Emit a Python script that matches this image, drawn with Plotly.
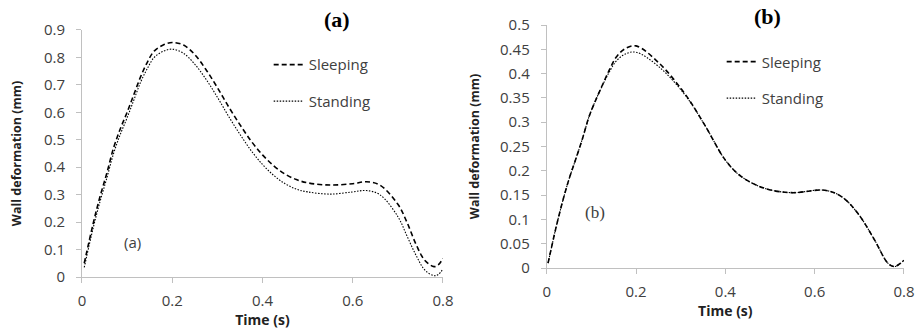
import plotly.graph_objects as go

# Panel (a)
t_a = [0.005, 0.025, 0.04, 0.055, 0.07, 0.085, 0.1, 0.115, 0.13, 0.145, 0.16, 0.18, 0.2, 0.225, 0.25, 0.275,
       0.3, 0.325, 0.35, 0.375, 0.4, 0.425, 0.45, 0.475, 0.5, 0.55, 0.6, 0.63, 0.66, 0.7, 0.72, 0.74, 0.76,
       0.78, 0.79, 0.8]
a_sleeping = [0.05, 0.196, 0.293, 0.378, 0.47, 0.54, 0.6, 0.665, 0.73, 0.783, 0.823, 0.845, 0.854, 0.845, 0.81,
              0.755, 0.69, 0.62, 0.555, 0.495, 0.445, 0.405, 0.375, 0.355, 0.343, 0.335, 0.34, 0.347, 0.335,
              0.265, 0.2, 0.12, 0.06, 0.038, 0.045, 0.068]
a_standing = [0.035, 0.18, 0.275, 0.36, 0.45, 0.52, 0.58, 0.645, 0.71, 0.76, 0.8, 0.822, 0.83, 0.815, 0.775,
              0.72, 0.655, 0.585, 0.52, 0.46, 0.41, 0.37, 0.34, 0.32, 0.31, 0.302, 0.31, 0.315, 0.3,
              0.22, 0.15, 0.08, 0.025, 0.005, 0.01, 0.03]

# Panel (b)
t_b = [0.003, 0.02, 0.035, 0.05, 0.065, 0.08, 0.095, 0.11, 0.125, 0.14, 0.155, 0.175, 0.2, 0.25, 0.309, 0.354,
       0.4, 0.436, 0.488, 0.548, 0.622, 0.66, 0.697, 0.734, 0.764, 0.779, 0.8]
b_sleeping = [0.01, 0.08, 0.135, 0.183, 0.224, 0.266, 0.312, 0.346, 0.377, 0.407, 0.433, 0.451, 0.457, 0.423,
              0.359, 0.294, 0.222, 0.188, 0.164, 0.155, 0.16, 0.147, 0.112, 0.058, 0.01, 0.003, 0.016]
b_standing = [0.01, 0.08, 0.135, 0.183, 0.224, 0.266, 0.312, 0.346, 0.376, 0.403, 0.425, 0.44, 0.444, 0.415,
              0.357, 0.294, 0.222, 0.188, 0.164, 0.155, 0.16, 0.147, 0.112, 0.058, 0.01, 0.003, 0.016]

x_ticks = [0, 0.2, 0.4, 0.6, 0.8]
x_tick_text = ["0", "0.2", "0.4", "0.6", "0.8"]
ya_ticks = [0, 0.1, 0.2, 0.3, 0.4, 0.5, 0.6, 0.7, 0.8, 0.9]
ya_text = ["0", "0.1", "0.2", "0.3", "0.4", "0.5", "0.6", "0.7", "0.8", "0.9"]
yb_ticks = [0, 0.05, 0.1, 0.15, 0.2, 0.25, 0.3, 0.35, 0.4, 0.45, 0.5]
yb_text = ["0", "0.05", "0.1", "0.15", "0.2", "0.25", "0.3", "0.35", "0.4", "0.45", "0.5"]

FONT = "Open Sans"
TICK_COLOR = "#404040"
AX_COLOR = "#c0c0c0"
DASH = "5px,3px"
DOT = "1.5px,1.5px"

fig = go.Figure()
fig.add_trace(go.Scatter(x=t_a, y=a_sleeping, mode="lines", name="Sleeping", legendgroup="s",
                         line=dict(color="black", dash=DASH, width=1.6, shape="spline"), xaxis="x", yaxis="y",
                         legend="legend"))
fig.add_trace(go.Scatter(x=t_a, y=a_standing, mode="lines", name="Standing", legendgroup="t",
                         line=dict(color="black", dash=DOT, width=1.1, shape="spline"), xaxis="x", yaxis="y",
                         legend="legend"))
fig.add_trace(go.Scatter(x=t_b, y=b_sleeping, mode="lines", name="Sleeping", legendgroup="s2",
                         line=dict(color="black", dash=DASH, width=1.6, shape="spline"), xaxis="x2", yaxis="y2",
                         legend="legend2"))
fig.add_trace(go.Scatter(x=t_b, y=b_standing, mode="lines", name="Standing", legendgroup="t2",
                         line=dict(color="black", dash=DOT, width=1.1, shape="spline"), xaxis="x2", yaxis="y2",
                         legend="legend2"))

def xax(domain, anchor):
    return dict(domain=domain, anchor=anchor, range=[0, 0.8], tickvals=x_ticks, ticktext=x_tick_text,
                showgrid=False, zeroline=False, showline=True, linecolor=AX_COLOR, linewidth=1,
                ticks="outside", ticklen=5, tickcolor=AX_COLOR, automargin=False, ticklabelstandoff=5,
                tickfont=dict(family=FONT, size=15, color=TICK_COLOR),
                title=dict(text="<b>Time (s)</b>", font=dict(family=FONT, size=14, color="#222"), standoff=5))

def yax(domain, anchor, rng, tv, tt, standoff):
    return dict(domain=domain, anchor=anchor, range=rng, tickvals=tv, ticktext=tt,
                showgrid=False, zeroline=False, showline=True, linecolor=AX_COLOR, linewidth=1,
                ticks="outside", ticklen=5, tickcolor=AX_COLOR, automargin=False, ticklabelstandoff=8,
                tickfont=dict(family=FONT, size=15, color=TICK_COLOR),
                title=dict(text="<b>Wall deformation (mm)</b>", font=dict(family=FONT, size=12.5, color="#222"),
                           standoff=standoff))

legend_common = dict(bgcolor="rgba(0,0,0,0)", font=dict(family=FONT, size=15, color=TICK_COLOR),
                     tracegroupgap=14, itemwidth=30, xanchor="left", yanchor="top")

fig.update_layout(
    width=917, height=329,
    margin=dict(l=0, r=0, t=0, b=0),
    paper_bgcolor="white", plot_bgcolor="white",
    xaxis=xax([0.0894, 0.4831], "y"),
    yaxis=yax([0.158, 0.909], "x", [0, 0.9], ya_ticks, ya_text, 19),
    xaxis2=xax([0.5962, 0.9858], "y2"),
    yaxis2=yax([0.1854, 0.924], "x2", [0, 0.5], yb_ticks, yb_text, 17),
    legend=dict(x=0.293, y=0.853, **legend_common),
    legend2=dict(x=0.787, y=0.862, **legend_common),
    annotations=[
        dict(text="<b>(a)</b>", x=0.368, y=0.94, xref="paper", yref="paper", showarrow=False,
             yanchor="middle", font=dict(family="Liberation Serif", size=22, color="black")),
        dict(text="<b>(b)</b>", x=0.854, y=0.95, xref="paper", yref="paper", showarrow=False,
             yanchor="middle", font=dict(family="Liberation Serif", size=22, color="black")),
        dict(text="(a)", x=0.113, y=0.128, xref="x", yref="y", showarrow=False,
             font=dict(family=FONT, size=15, color=TICK_COLOR)),
        dict(text="(b)", x=0.108, y=0.115, xref="x2", yref="y2", showarrow=False,
             font=dict(family="Liberation Serif", size=17, color=TICK_COLOR)),
    ],
)

fig.write_html("out.html", config={"displayModeBar": False},
               post_script="document.body.style.margin='0';document.body.style.overflow='hidden';")
